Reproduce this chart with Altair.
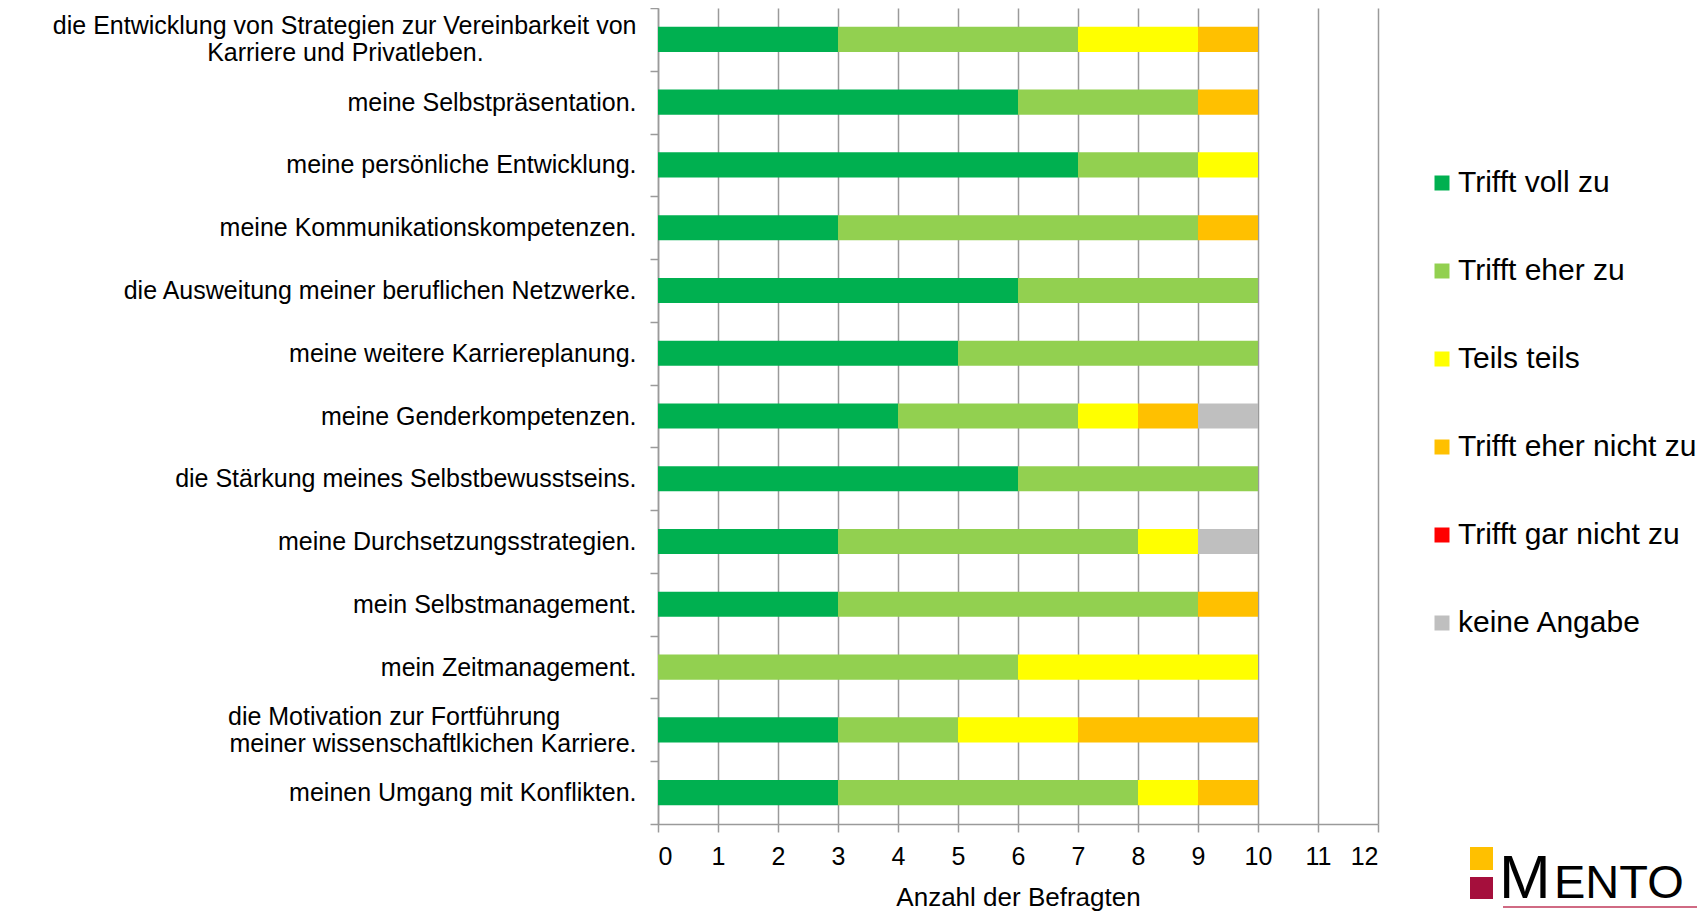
import altair as alt
import pandas as pd

NB = "\u00a0"
WJ = "\u2060"  # word joiner keeps the trailing no-break spaces from being trimmed

items = [
    "die Entwicklung von Strategien zur Vereinbarkeit von|Karriere und Privatleben." + NB * 22 + WJ,
    "meine Selbstpräsentation.",
    "meine persönliche Entwicklung.",
    "meine Kommunikationskompetenzen.",
    "die Ausweitung meiner beruflichen Netzwerke.",
    "meine weitere Karriereplanung.",
    "meine Genderkompetenzen.",
    "die Stärkung meines Selbstbewusstseins.",
    "meine Durchsetzungsstrategien.",
    "mein Selbstmanagement.",
    "mein Zeitmanagement.",
    "die Motivation zur Fortführung" + NB * 11 + WJ + "|meiner wissenschaftlkichen Karriere.",
    "meinen Umgang mit Konflikten.",
]

categories = ["Trifft voll zu", "Trifft eher zu", "Teils teils",
              "Trifft eher nicht zu", "Trifft gar nicht zu", "keine Angabe"]
colors = ["#00B050", "#92D050", "#FFFF00", "#FFC000", "#FF0000", "#BFBFBF"]

trifft_voll = [3, 6, 7, 3, 6, 5, 4, 6, 3, 3, 0, 3, 3]
trifft_eher = [4, 3, 2, 6, 4, 5, 3, 4, 5, 6, 6, 2, 5]
teils_teils = [2, 0, 1, 0, 0, 0, 1, 0, 1, 0, 4, 2, 1]
eher_nicht = [1, 1, 0, 1, 0, 0, 1, 0, 0, 1, 0, 3, 1]
gar_nicht = [0, 0, 0, 0, 0, 0, 0, 0, 0, 0, 0, 0, 0]
keine_angabe = [0, 0, 0, 0, 0, 0, 1, 0, 1, 0, 0, 0, 0]

x_ticks = list(range(0, 13))

series = [trifft_voll, trifft_eher, teils_teils, eher_nicht, gar_nicht, keine_angabe]
rows = []
for ci, (cat, vals) in enumerate(zip(categories, series)):
    for item, v in zip(items, vals):
        rows.append({"item": item, "Antwort": cat, "rank": ci, "value": v})
df = pd.DataFrame(rows)

FONT = "Liberation Sans"
GRID = "#9a9a9a"

bars = alt.Chart(df).mark_bar(height={"band": 0.4}).encode(
    y=alt.Y(
        "item:N",
        sort=items,
        scale=alt.Scale(paddingInner=0, paddingOuter=0),
        axis=alt.Axis(
            title=None,
            tickBand="extent",
            labelExpr="split(datum.label, '|')",
            labelOffset={"condition": {"test": "indexof(datum.label, '|') >= 0", "value": -13.5},
                         "value": 0},
            labelFont=FONT,
            labelFontSize=25,
            labelColor="#000000",
            labelLineHeight=27,
            labelPadding=14,
            labelLimit=1000,
            tickSize=8,
            tickColor=GRID,
            tickWidth=1.5,
            domainColor=GRID,
            domainWidth=1.5,
            grid=False,
        ),
    ),
    x=alt.X(
        "value:Q",
        stack="zero",
        scale=alt.Scale(domain=[0, 12], nice=False),
        axis=alt.Axis(
            values=x_ticks,
            title="Anzahl der Befragten",
            titleFont=FONT,
            titleFontSize=26,
            titleFontWeight="normal",
            titleColor="#000000",
            titlePadding=15,
            labelFont=FONT,
            labelFontSize=25,
            labelColor="#000000",
            labelPadding=12,
            tickSize=8,
            tickColor=GRID,
            tickWidth=1.5,
            domainColor=GRID,
            domainWidth=1.5,
            grid=True,
            gridColor=GRID,
            gridWidth=1.5,
        ),
    ),
    color=alt.Color(
        "Antwort:N",
        scale=alt.Scale(domain=categories, range=colors),
        legend=alt.Legend(
            title=None,
            orient="none",
            legendX=769,
            legendY=160,
            padding=0,
            symbolType="square",
            symbolSize=225,
            symbolStrokeWidth=0,
            symbolOpacity=1,
            labelFont=FONT,
            labelFontSize=30,
            labelColor="#000000",
            labelOffset=1,
            rowPadding=58,
            labelLimit=400,
        ),
    ),
    order=alt.Order("rank:Q"),
)

# MENTOR logo (decoration, bottom right)
one = pd.DataFrame({"k": [0]})
logo_y = alt.Chart(one).mark_rect(color="#FFC000").encode(
    x=alt.value(812), x2=alt.value(835), y=alt.value(839), y2=alt.value(862))
logo_r = alt.Chart(one).mark_rect(color="#A50F3C").encode(
    x=alt.value(812), x2=alt.value(835), y=alt.value(869), y2=alt.value(891))
logo_m = alt.Chart(one).mark_text(
    text="M", font=FONT, fontSize=62, align="left", baseline="alphabetic", color="#000000"
).encode(x=alt.value(841), y=alt.value(890))
logo_rest = alt.Chart(one).mark_text(
    text="ENTO", font=FONT, fontSize=47, align="left", baseline="alphabetic", color="#000000"
).encode(x=alt.value(896), y=alt.value(890))
logo_line = alt.Chart(one).mark_rule(color="#C0395A", strokeWidth=1.5).encode(
    x=alt.value(845), x2=alt.value(1100), y=alt.value(899))

chart = alt.layer(bars, logo_y, logo_r, logo_m, logo_rest, logo_line).properties(
    width=720,
    height=816,
    autosize=alt.AutoSizeParams(type="none"),
    padding={"left": 650, "top": 0, "right": 319, "bottom": 88},
    background="#ffffff",
).configure_view(stroke=None)

chart.save("out.html", embed_options={"renderer": "svg", "actions": False})
